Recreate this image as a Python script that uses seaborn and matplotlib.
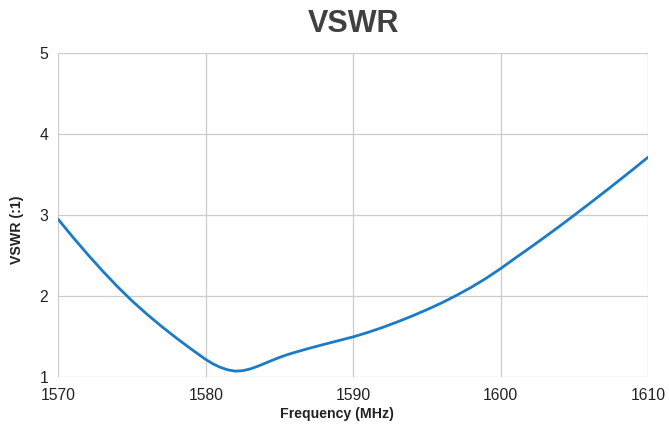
import numpy as np
import pandas as pd
import matplotlib
matplotlib.use("Agg")
import matplotlib.pyplot as plt
import seaborn as sns

# values (MHz, VSWR)
freq = [1570, 1571, 1572, 1573, 1574, 1575, 1576, 1577, 1578, 1579, 1580,
        1580.5, 1581, 1581.5, 1582, 1582.5, 1583, 1583.5, 1584, 1584.5, 1585,
        1585.5, 1586, 1587, 1588, 1589, 1590, 1591, 1592, 1593, 1594, 1595,
        1596, 1597, 1598, 1599, 1600, 1601, 1602, 1603, 1604, 1605, 1606,
        1607, 1608, 1609, 1610]
vswr = [2.94, 2.718, 2.506, 2.304, 2.112, 1.934, 1.771, 1.619, 1.476, 1.34, 1.21,
        1.155, 1.112, 1.082, 1.066, 1.072, 1.093, 1.125, 1.162, 1.2, 1.236,
        1.268, 1.296, 1.348, 1.396, 1.443, 1.49, 1.545, 1.607, 1.675, 1.748, 1.826,
        1.91, 2.002, 2.102, 2.212, 2.334, 2.465, 2.593, 2.724, 2.858, 2.995, 3.134,
        3.275, 3.418, 3.563, 3.71]
xticks = [1570, 1580, 1590, 1600, 1610]
yticks = [1, 2, 3, 4, 5]

df = pd.DataFrame({"Frequency (MHz)": freq, "VSWR (:1)": vswr})

sns.set_style("white")
plt.rcParams["font.family"] = ["Liberation Sans", "DejaVu Sans"]

fig = plt.figure(figsize=(6.69, 4.28), dpi=100)
ax = fig.add_axes([0.0871, 0.1203, 0.8820, 0.7570])

sns.lineplot(data=df, x="Frequency (MHz)", y="VSWR (:1)", ax=ax,
             color="#1a7bc9", linewidth=2.0)

ax.set_xlim(1570, 1610)
ax.set_ylim(1, 5)
ax.set_xticks(xticks)
ax.set_yticks(yticks)
ax.grid(True, color="#cccccc", linewidth=0.9)
for s in ax.spines.values():
    s.set_visible(False)
ax.tick_params(axis="y", length=3.6, width=0.9, color="#cccccc", labelsize=11.3, pad=3.6, labelcolor="#222222")
ax.tick_params(axis="x", length=3, width=0.9, color="#cccccc", labelsize=11.3, pad=5.5, labelcolor="#222222")

ax.set_xlabel("Frequency (MHz)", fontsize=10.2, fontweight="bold", color="#222222")
ax.xaxis.set_label_coords(0.472, -0.095)
ax.set_ylabel("VSWR (:1)", fontsize=10.2, fontweight="bold", color="#222222")
ax.yaxis.set_label_coords(-0.058, 0.454)
ax.set_title("VSWR", fontsize=22, fontweight="bold", color="#404040", pad=15)

fig.savefig("out.png", dpi=100)
